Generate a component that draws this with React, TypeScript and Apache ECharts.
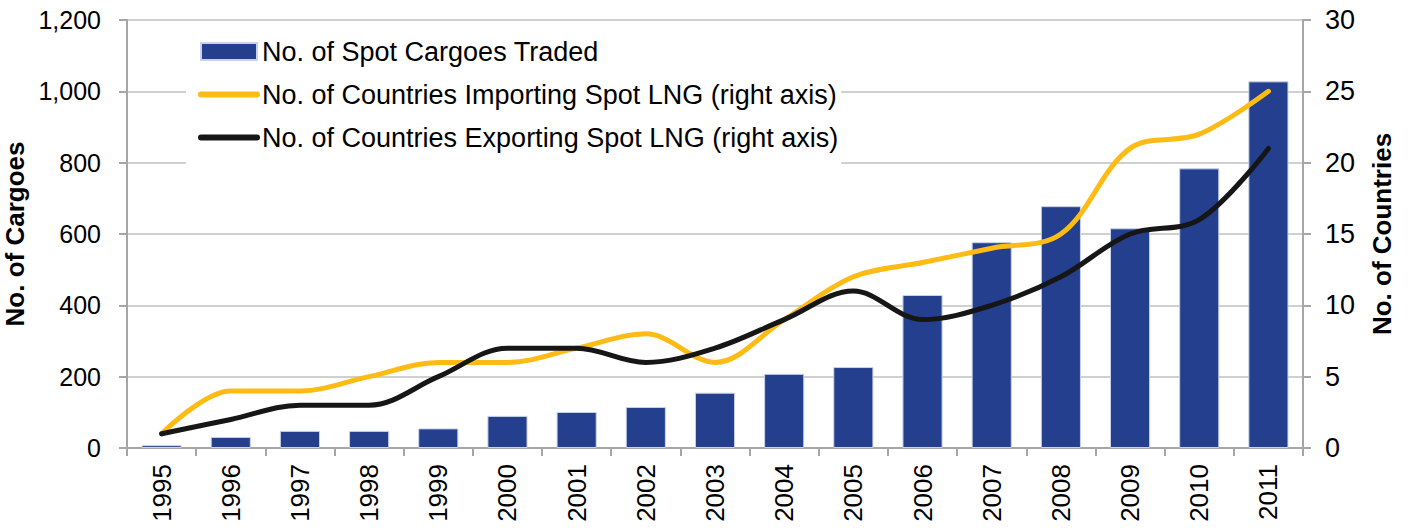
import React, { useEffect, useRef } from "react";
import * as echarts from "echarts";

const years = ["1995","1996","1997","1998","1999","2000","2001","2002","2003","2004","2005","2006","2007","2008","2009","2010","2011"];
const cargoes = [8, 31, 48, 48, 55, 90, 101, 115, 155, 208, 227, 429, 577, 678, 616, 784, 1028];
const importing = [1, 4, 4, 5, 6, 6, 7, 8, 6, 9, 12, 13, 14, 15, 21, 22, 25];
const exporting = [1, 2, 3, 3, 5, 7, 7, 6, 7, 9, 11, 9, 10, 12, 15, 16, 21];

const FONT = "Liberation Sans, Arial, sans-serif";

export default function App() {
  const ref = useRef<HTMLDivElement>(null);
  useEffect(() => {
    const chart = echarts.init(ref.current!, null, { renderer: "svg" });
    const axisLine = { show: true, lineStyle: { color: "#a6a6a6", width: 2 } };
    const axisTick = { show: true, length: 8, lineStyle: { color: "#a6a6a6", width: 2 } };
    const lineLegend = { itemStyle: { opacity: 0 }, lineStyle: { width: 6, cap: "round" } };
    chart.setOption({
      animation: false,
      backgroundColor: "#fff",
      grid: { left: 127, right: 105, top: 20, bottom: 80, outerBoundsMode: "none", containLabel: false },
      legend: {
        orient: "vertical",
        left: 186,
        top: 25,
        itemWidth: 56,
        itemHeight: 17,
        itemGap: 16,
        padding: [13, 3, 17, 12],
        backgroundColor: "#fff",
        textStyle: { fontFamily: FONT, fontSize: 27, color: "#000" },
        data: [
          { name: "No. of Spot Cargoes Traded", icon: "rect" },
          { name: "No. of Countries Importing Spot LNG (right axis)", ...lineLegend },
          { name: "No. of Countries Exporting Spot LNG (right axis)", ...lineLegend },
        ],
      },
      xAxis: {
        type: "category",
        data: years,
        axisLine,
        axisTick,
        axisLabel: { rotate: 90, fontFamily: FONT, fontSize: 26, color: "#000", margin: 16 },
      },
      yAxis: [
        {
          type: "value",
          min: 0,
          max: 1200,
          interval: 200,
          name: "No. of Cargoes",
          nameLocation: "middle",
          nameRotate: 90,
          nameGap: 88,
          nameTextStyle: { fontFamily: FONT, fontSize: 26, fontWeight: "bold", color: "#000" },
          axisLine,
          axisTick,
          splitLine: { show: true, lineStyle: { color: "#d0d0d0", width: 2 } },
          axisLabel: {
            fontFamily: FONT,
            fontSize: 25,
            color: "#000",
            margin: 26,
            formatter: (v: number) => v.toLocaleString("en-US"),
          },
        },
        {
          type: "value",
          min: 0,
          max: 30,
          interval: 5,
          position: "right",
          name: "No. of Countries",
          nameLocation: "middle",
          nameRotate: 90,
          nameGap: 66,
          nameTextStyle: { fontFamily: FONT, fontSize: 26, fontWeight: "bold", color: "#000" },
          axisLine,
          axisTick,
          splitLine: { show: false },
          axisLabel: { fontFamily: FONT, fontSize: 27, color: "#000", margin: 22 },
        },
      ],
      series: [
        {
          name: "No. of Spot Cargoes Traded",
          type: "bar",
          data: cargoes,
          yAxisIndex: 0,
          barWidth: "58%",
          itemStyle: { color: "#253F8F", borderColor: "#c9d2ea", borderWidth: 1 },
        },
        {
          name: "No. of Countries Importing Spot LNG (right axis)",
          type: "line",
          data: importing,
          yAxisIndex: 1,
          smooth: 0.35,
          symbol: "none",
          lineStyle: { color: "#FDBB13", width: 5, cap: "round" },
          itemStyle: { color: "#FDBB13" },
        },
        {
          name: "No. of Countries Exporting Spot LNG (right axis)",
          type: "line",
          data: exporting,
          yAxisIndex: 1,
          smooth: 0.35,
          symbol: "none",
          lineStyle: { color: "#161616", width: 5, cap: "round" },
          itemStyle: { color: "#161616" },
        },
      ],
    });
    return () => chart.dispose();
  }, []);
  return <div ref={ref} style={{ position: "fixed", left: 0, top: 0, width: 1408, height: 528 }} />;
}
